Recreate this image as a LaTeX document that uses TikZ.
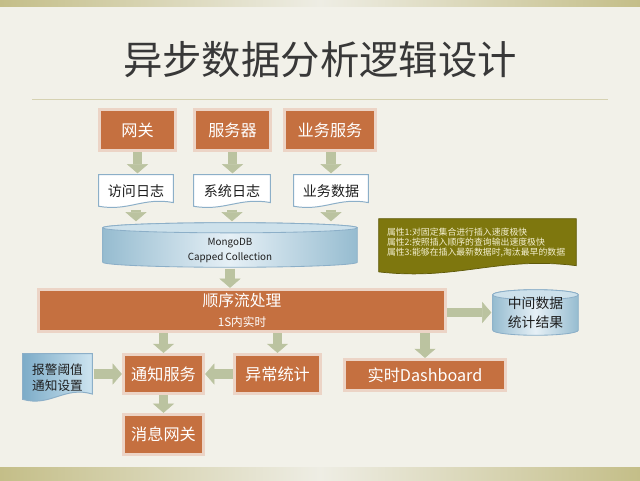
\documentclass[tikz,border=0pt]{standalone}
\usepackage{fontspec}
\setmainfont{Noto Sans CJK SC}
\usetikzlibrary{arrows.meta,calc}

\definecolor{pagebg}{RGB}{242,241,233}
\definecolor{barolive}{RGB}{196,190,136}
\definecolor{barlight}{RGB}{238,237,228}
\definecolor{rulecolor}{RGB}{214,210,178}
\definecolor{titlegray}{RGB}{56,56,56}
\definecolor{inkgray}{RGB}{30,30,30}
\definecolor{boxorange}{RGB}{197,112,64}
\definecolor{boxrim}{RGB}{236,212,198}
\definecolor{boxedge}{RGB}{160,150,140}
\definecolor{flowgreen}{RGB}{187,195,160}
\definecolor{docedge}{RGB}{140,175,200}
\definecolor{cylblue}{RGB}{150,188,208}
\definecolor{cyllight}{RGB}{230,240,246}
\definecolor{cyltop}{RGB}{205,225,235}
\definecolor{alarmblue}{RGB}{125,172,200}
\definecolor{alarmlight}{RGB}{205,228,240}
\definecolor{noteolive}{RGB}{126,119,14}
\definecolor{noteedge}{RGB}{95,90,10}
\definecolor{notetext}{RGB}{244,240,208}

\pgfdeclarelayer{page}
\pgfdeclarelayer{shapes}
\pgfsetlayers{page,shapes,main}

% flat top, wavy bottom: style, node, extra depth below the node
\newcommand{\docoutline}[3]{%
  \path[#1] let \p1=([yshift=-#3]#2.south west), \p2=(#2.north east) in
    (\x1,\y2) -- (\x2,\y2) -- (\x2,{\y1+0.17*(\y2-\y1)})
    .. controls ({\x1+0.6*(\x2-\x1)},{\y1+0.34*(\y2-\y1)})
            and ({\x1+0.4*(\x2-\x1)},{\y1-0.1*(\y2-\y1)})
    .. (\x1,{\y1+0.06*(\y2-\y1)}) -- cycle;
}
% drum: body style, top style, node, half height of the end
\newcommand{\drumoutline}[4]{%
  \path[#1] let \p1=(#3.south west), \p2=(#3.north east), \n1={(\x2-\x1)/2} in
    (\x1,{\y2-#4}) -- (\x1,{\y1+#4})
    arc[start angle=180, end angle=360, x radius=\n1, y radius=#4]
    -- (\x2,{\y2-#4})
    arc[start angle=0, end angle=180, x radius=\n1, y radius=#4] -- cycle;
  \path[#2] let \p1=(#3.south west), \p2=(#3.north east), \n1={(\x2-\x1)/2} in
    ({\x1+\n1},{\y2-#4}) ellipse[x radius=\n1, y radius=#4];
}

\begin{document}
\begin{tikzpicture}[
  every node/.style={inner sep=0pt},
  title/.style={font=\fontsize{28}{32}\selectfont, text=titlegray},
  flowbox/.style={draw=boxedge, line width=0.4pt, double=boxrim,
    double distance=1.7pt, fill=boxorange, text=white,
    font=\fontsize{11.5}{13}\selectfont},
  docbox/.style={font=\fontsize{10}{12}\selectfont, text=inkgray},
  docline/.style={fill=white, draw=docedge, line width=0.7pt},
  alarmline/.style={left color=alarmblue, right color=alarmlight,
    draw=docedge, line width=0.7pt},
  drumbox/.style={text=inkgray, align=center},
  drumbody/.style={left color=cylblue, right color=cylblue,
    middle color=cyllight, draw=docedge, line width=0.6pt},
  drumtop/.style={fill=cyltop, draw=docedge, line width=0.6pt},
  notebox/.style={text=notetext, align=left, inner xsep=0.2cm,
    font=\fontsize{6.3}{7.1}\selectfont},
  noteline/.style={fill=noteolive, draw=noteedge, line width=0.5pt},
  flow/.style={draw=flowgreen, line width=7pt,
    -{Triangle[length=6.5pt, width=15pt, line width=0.4pt]},
    shorten <=1pt, shorten >=1pt}
]
\useasboundingbox (0,0) rectangle (16,12);

% ------------------------------------------------------------------
% Page
% ------------------------------------------------------------------
\begin{pgfonlayer}{page}
  \fill[pagebg] (0,0) rectangle (16,12);
  \shade[left color=barolive, right color=barolive, middle color=barlight]
    (0,11.825) rectangle (16,12);
  \shade[left color=barolive, right color=barolive, middle color=barlight]
    (0,0) rectangle (16,0.325);
  \draw[rulecolor, line width=0.6pt] (0.8,9.525) -- (15.2,9.525);
\end{pgfonlayer}

\node[title] (title) at (8,10.5) {异步数据分析逻辑设计};

% ------------------------------------------------------------------
% Sources
% ------------------------------------------------------------------
\node[flowbox, minimum width=1.9cm, minimum height=1.03cm] (gateway) at (3.4375,8.75) {网关};
\node[flowbox, minimum width=1.9cm, minimum height=1.03cm] (server) at (5.8125,8.75) {服务器};
\node[flowbox, minimum width=2.27cm, minimum height=1.03cm] (business) at (8.25,8.75) {业务服务};

\node[docbox, minimum width=1.85cm, minimum height=0.825cm] (accesslog) at (3.4,7.2125) {访问日志};
\node[docbox, minimum width=1.9cm, minimum height=0.825cm] (syslog) at (5.8,7.2125) {系统日志};
\node[docbox, minimum width=1.85cm, minimum height=0.825cm] (bizdata) at (8.275,7.2125) {业务数据};

% ------------------------------------------------------------------
% Storage
% ------------------------------------------------------------------
\node[drumbox, minimum width=6.35cm, minimum height=1.1cm,
  font=\fontsize{7}{8.6}\selectfont] (mongo) at (5.75,5.875)
  {\rule{0pt}{23pt}\shortstack{MongoDB\\Capped Collection}};

\node[notebox, text width=4.525cm, minimum height=1.2cm] (note) at (11.9375,5.925)
  {属性1:对固定集合进行插入速度极快\\
   属性2:按照插入顺序的查询输出速度极快\\
   属性3:能够在插入最新数据时,淘汰最早的数据};

% ------------------------------------------------------------------
% Processing
% ------------------------------------------------------------------
\node[flowbox, minimum width=10.17cm, minimum height=1.05cm, align=center] (proc) at (6.05,4.2375)
  {{\fontsize{11.2}{12}\selectfont 顺序流处理}\\[1pt]{\fontsize{8.3}{9}\selectfont 1S内实时}};

\node[drumbox, minimum width=2.125cm, minimum height=1.125cm,
  font=\fontsize{9.8}{13.5}\selectfont] (stats) at (13.3875,4.1875) {中间数据\\统计结果};

\node[docbox, minimum width=1.725cm, minimum height=1.2cm, align=center,
  font=\fontsize{9}{11.4}\selectfont] (alarm) at (1.4375,2.55) {报警阈值\\通知设置};

\node[flowbox, minimum width=2.0cm, minimum height=0.97cm] (notify) at (4.0875,2.65) {通知服务};
\node[flowbox, minimum width=2.145cm, minimum height=0.97cm] (anomaly) at (6.9375,2.65) {异常统计};
\node[flowbox, minimum width=4.02cm, minimum height=0.77cm] (dashboard) at (10.625,2.625) {实时Dashboard};
\node[flowbox, minimum width=2.0cm, minimum height=1.0cm] (msggate) at (4.0875,1.1375) {消息网关};

% ------------------------------------------------------------------
% Outlines behind the texts
% ------------------------------------------------------------------
\begin{pgfonlayer}{shapes}
  \foreach \D in {accesslog,syslog,bizdata}{
    \docoutline{docline}{\D}{0pt}
  }
  \docoutline{alarmline}{alarm}{0pt}
  \docoutline{noteline}{note}{0.2cm}
  \drumoutline{drumbody}{drumtop}{mongo}{3.6pt}
  \drumoutline{drumbody}{drumtop}{stats}{3.6pt}
\end{pgfonlayer}

% ------------------------------------------------------------------
% Flow
% ------------------------------------------------------------------
\draw[flow] (gateway.south) -- (gateway.south |- accesslog.north);
\draw[flow] (server.south) -- (server.south |- syslog.north);
\draw[flow] (business.south -| bizdata) -- (bizdata.north);
\foreach \D in {accesslog,syslog,bizdata}
  \draw[flow] (\D.south) -- (\D.south |- mongo.north);
\draw[flow] (mongo.south) -- (mongo.south |- proc.north);
\draw[flow] (proc.east |- stats) -- (stats.west);
\draw[flow] (proc.south -| notify) -- (notify.north);
\draw[flow] (proc.south -| anomaly) -- (anomaly.north);
\draw[flow] (proc.south -| dashboard) -- (dashboard.north);
\draw[flow] (anomaly.west) -- (notify.east);
\draw[flow] (alarm.east |- notify) -- (notify.west);
\draw[flow] (notify.south) -- (msggate.north);

\end{tikzpicture}
\end{document}
